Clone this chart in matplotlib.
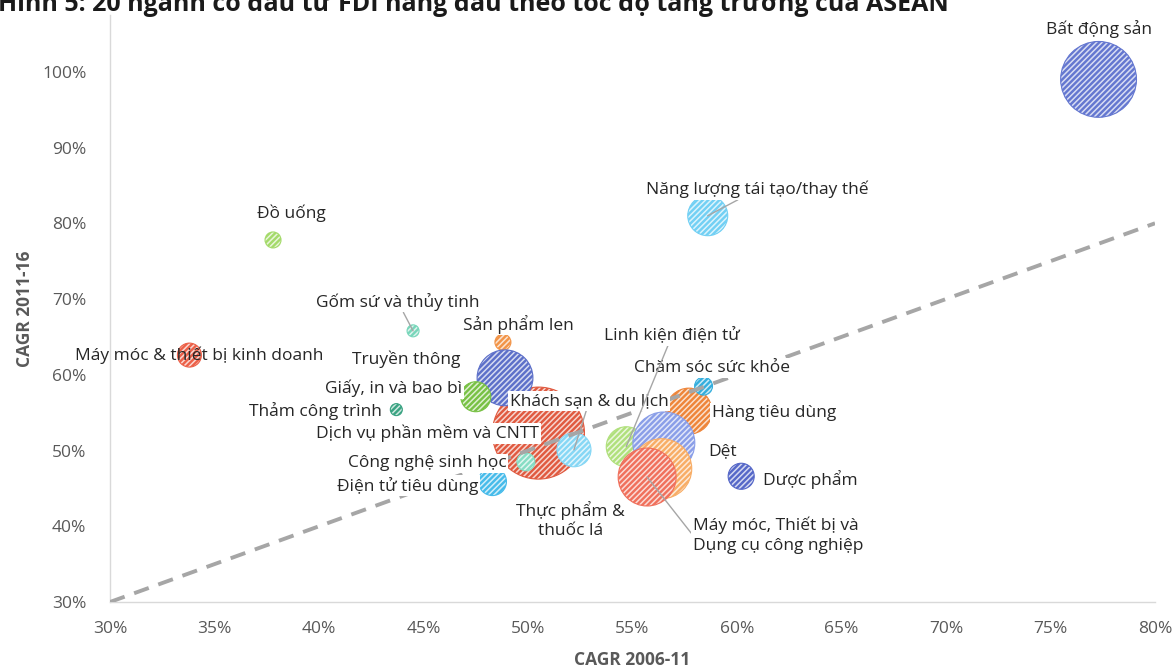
import numpy as np
import matplotlib.pyplot as plt
from matplotlib.ticker import PercentFormatter, MultipleLocator

plt.rcParams['font.family'] = ['Open Sans', 'DejaVu Sans']
plt.rcParams['hatch.linewidth'] = 1.1

# Dữ liệu: tên ngành, CAGR 2006-11, CAGR 2011-16, quy mô bong bóng
nganh = ['Bất động sản', 'Năng lượng tái tạo/thay thế', 'Đồ uống',
         'Gốm sứ và thủy tinh', 'Sản phẩm len', 'Máy móc & thiết bị kinh doanh',
         'Dịch vụ phần mềm và CNTT', 'Truyền thông', 'Giấy, in và bao bì',
         'Thảm công trình', 'Khách sạn & du lịch', 'Công nghệ sinh học',
         'Điện tử tiêu dùng', 'Hàng tiêu dùng', 'Chăm sóc sức khỏe',
         'Linh kiện điện tử', 'Dệt', 'Thực phẩm &\nthuốc lá',
         'Máy móc, Thiết bị và\nDụng cụ công nghiệp', 'Dược phẩm']
cagr_0611 = [0.773, 0.586, 0.378, 0.445, 0.488, 0.338,
             0.505, 0.489, 0.475, 0.437, 0.522, 0.499,
             0.483, 0.577, 0.584, 0.547, 0.565, 0.564,
             0.557, 0.602]
cagr_1116 = [0.990, 0.810, 0.778, 0.658, 0.643, 0.626,
             0.523, 0.596, 0.571, 0.554, 0.501, 0.485,
             0.459, 0.552, 0.585, 0.505, 0.510, 0.476,
             0.465, 0.466]
quy_mo = [144, 40, 6.4, 3.6, 6.4, 14.4,
          212, 78, 22.5, 3.6, 29, 8,
          19.6, 53, 8, 40, 96, 90,
          84, 17]

# Màu bong bóng
mau = ['#6477D0', '#72D0F4', '#A4DA6A', '#78D6BA', '#F29448', '#EC6048',
       '#E05A40', '#5D70C9', '#78C145', '#3AA382', '#86D7F5', '#86DDC4',
       '#46BBEA', '#EE853A', '#34AEDD', '#B0E07C', '#8A9EE8', '#F8AD66',
       '#F0705C', '#5668C8']

# Vị trí nhãn so với tâm bong bóng (points)
nhan_dx = [0, 36, 13, -11, 11, 7, -80, -71, -59, -58, 11, -71, -61, 61, 6, 33, 42, -66, 33, 50]
nhan_dy = [36, 19, 19, 21, 13, 0, 0, 13, 6, -1, 35, -1, -3, -1, 13, 80, -6, -37, -42, -2]
duong_dan = {1, 3, 10, 15, 18}

he_so = 20.7

fig = plt.figure(figsize=(11.73, 6.68), dpi=100)
ax = fig.add_axes([110 / 1173, 1 - 602 / 668, (1155 - 110) / 1173, (602 - 15) / 668])

for i in range(len(nganh)):
    s = quy_mo[i] * he_so
    ax.scatter(cagr_0611[i], cagr_1116[i], s=s, c=mau[i], edgecolors=(1, 1, 1, 0.75),
               linewidths=0, hatch='//////', zorder=2 + i * 0.01)
    ax.scatter(cagr_0611[i], cagr_1116[i], s=s, facecolors='none', edgecolors=mau[i],
               linewidths=0.8, zorder=2 + i * 0.01 + 0.005)

# Đường chéo 45 độ
ax.plot([0.30, 0.80], [0.30, 0.80], color='#A6A6A6', lw=2.8, ls=(0, (4, 2.6)), zorder=3)

for i, ten in enumerate(nganh):
    ha = 'left' if i == 18 else 'center'
    hop = None if i == 5 else dict(boxstyle='square,pad=0.1', fc='white', ec='none')
    mui = None
    if i in duong_dan:
        mui = dict(arrowstyle='-', color='#A6A6A6', lw=1, shrinkA=0, shrinkB=0,
                   relpos=(0, 0.5) if i == 18 else (0.5, 0.5))
    ax.annotate(ten, xy=(cagr_0611[i], cagr_1116[i]), xytext=(nhan_dx[i], nhan_dy[i]),
                textcoords='offset points', ha=ha, va='center', fontsize=12.5,
                color='#262626', bbox=hop, arrowprops=mui, zorder=4,
                linespacing=1.3)

ax.set_xlim(0.30, 0.80)
ax.set_ylim(0.30, 1.075)
ax.xaxis.set_major_locator(MultipleLocator(0.05))
ax.set_yticks(np.arange(0.30, 1.001, 0.10))
ax.xaxis.set_major_formatter(PercentFormatter(1, decimals=0))
ax.yaxis.set_major_formatter(PercentFormatter(1, decimals=0))
ax.tick_params(length=0, labelsize=12.5, labelcolor='#595959')
ax.tick_params(axis='x', pad=14)
ax.tick_params(axis='y', pad=17)

for s in ['top', 'right']:
    ax.spines[s].set_visible(False)
for s in ['left', 'bottom']:
    ax.spines[s].set_color('#D9D9D9')
    ax.spines[s].set_linewidth(1)

ax.set_xlabel('CAGR 2006-11', fontsize=12.5, fontweight='bold', color='#595959', labelpad=10)
ax.set_ylabel('CAGR 2011-16', fontsize=12.5, fontweight='bold', color='#595959', labelpad=6)

fig.text(-0.002, 1 - 11 / 668, 'Hình 5: 20 ngành có đầu tư FDI hàng đầu theo tốc độ tăng trưởng của ASEAN',
         fontsize=18, fontweight='bold', color='#1A1A1A', va='baseline', ha='left')

fig.savefig('out.png', dpi=100)
